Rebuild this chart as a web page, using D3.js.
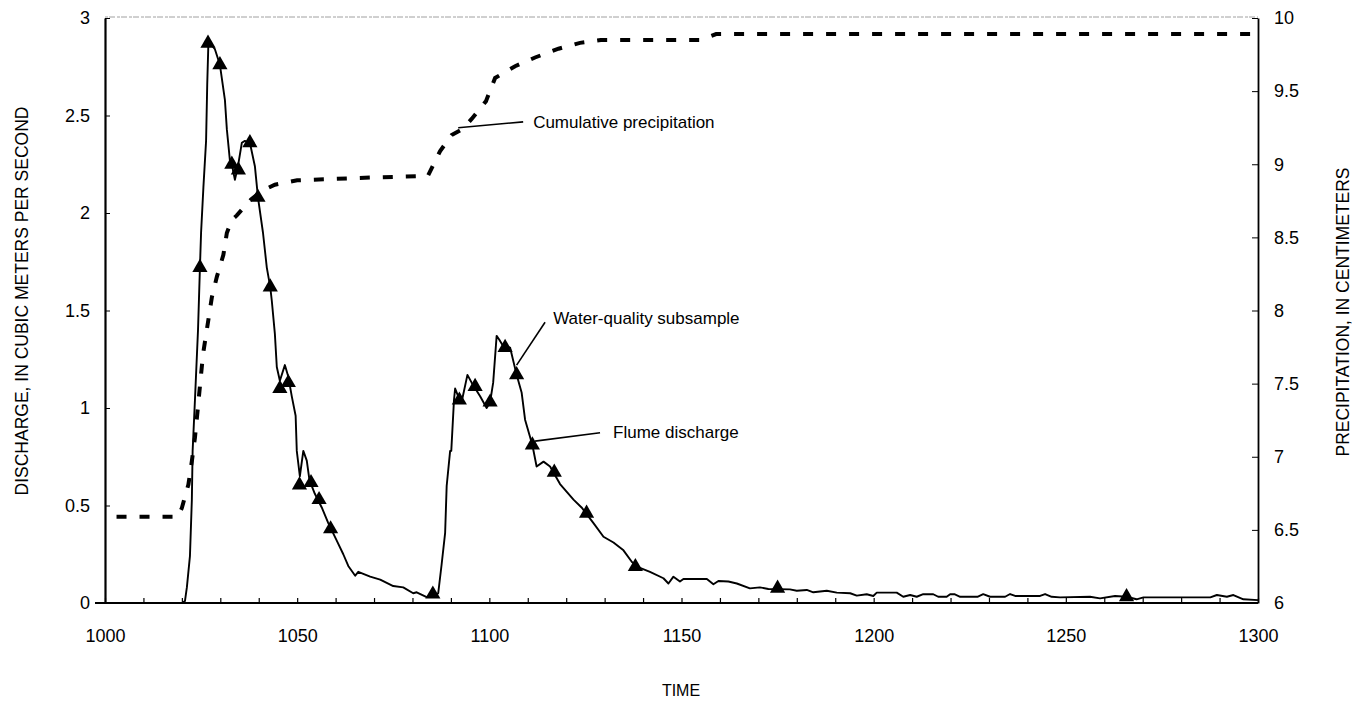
<!DOCTYPE html>
<html>
<head>
<meta charset="utf-8">
<script src="https://cdn.jsdelivr.net/npm/d3@7"></script>
<style>
  body { margin: 0; background: #fff; }
  svg { font-family: "Liberation Sans", Arial, Helvetica, sans-serif; }
</style>
</head>
<body>
<svg id="chart" width="1364" height="702"></svg>
<script>
// flume discharge, m3/s  [time, value]
var discharge = [
  [1000,0],[1020,0],[1020.8,0.01],[1021.3,0.08],[1022.1,0.24],[1022.6,0.53],[1022.8,0.78],[1023.4,1.04],
  [1024.2,1.4],[1024.7,1.72],[1025,1.9],[1025.6,2.13],[1026.3,2.37],[1026.6,2.66],[1026.9,2.87],
  [1027.8,2.86],[1028.6,2.84],[1029.9,2.76],[1031.2,2.58],[1031.7,2.43],[1032.5,2.27],[1033.0,2.25],
  [1033.8,2.17],[1034.6,2.24],[1035.6,2.36],[1036.4,2.37],[1037.7,2.36],[1039.0,2.24],[1039.8,2.08],
  [1041.1,1.90],[1042.1,1.72],[1043.0,1.62],[1043.4,1.55],[1044.2,1.38],[1044.7,1.21],[1045.5,1.14],
  [1046.8,1.22],[1047.7,1.16],[1048.6,1.06],[1049.6,0.96],[1049.9,0.78],[1050.7,0.65],[1051.6,0.78],
  [1052.5,0.73],[1053.2,0.63],[1054.6,0.56],[1056.4,0.49],[1058.1,0.41],[1060.3,0.32],[1062.0,0.25],
  [1063.3,0.19],[1065.1,0.14],[1065.9,0.16],[1069.0,0.135],[1071.6,0.12],[1075.0,0.087],[1077.6,0.08],
  [1080.2,0.05],[1081.1,0.055],[1083.7,0.03],[1085.3,0.03],[1086.7,0.05],[1087.6,0.20],[1088.5,0.36],
  [1088.9,0.60],[1089.8,0.78],[1090.1,0.78],[1090.8,1.04],[1091.1,1.10],[1091.9,1.06],[1093.0,1.05],
  [1094.3,1.17],[1095.4,1.13],[1097.6,1.06],[1099.3,1.0],[1100.2,1.03],[1101.0,1.13],[1101.9,1.37],
  [1102.6,1.35],[1103.5,1.32],[1105.4,1.31],[1107.1,1.17],[1108.4,1.08],[1109.3,0.94],[1111.2,0.81],
  [1112.3,0.70],[1114.1,0.725],[1115.8,0.70],[1118.4,0.61],[1121.9,0.53],[1124.0,0.49],[1127.1,0.41],
  [1129.7,0.34],[1132.3,0.31],[1134.9,0.27],[1137.1,0.21],[1139.2,0.18],[1141.8,0.16],[1145.3,0.127],
  [1146.6,0.10],[1147.9,0.135],[1149.6,0.11],[1150.5,0.123],[1156.6,0.123],[1158.3,0.096],[1159.6,0.113],
  [1162.2,0.11],[1164.4,0.10],[1167.8,0.075],[1170.4,0.08],[1172.6,0.072],[1178.2,0.07],[1180,0.063],
  [1182.6,0.067],[1184.3,0.055],[1187.8,0.063],[1190.4,0.053],[1193.9,0.05],[1195.6,0.038],[1198.2,0.045],
  [1199.9,0.036],[1200.8,0.053],[1206.0,0.053],[1207.7,0.032],[1209.5,0.041],[1211.2,0.032],[1212.9,0.045],
  [1215.5,0.045],[1216.8,0.032],[1219,0.032],[1219.9,0.045],[1221,0.045],[1222.5,0.032],[1227,0.032],
  [1228.5,0.045],[1230.3,0.032],[1234.2,0.032],[1235.5,0.046],[1236.8,0.036],[1243.3,0.036],[1244.6,0.046],
  [1246.3,0.032],[1248.5,0.029],[1256.3,0.032],[1258.9,0.024],[1262.8,0.036],[1265.8,0.032],[1268.4,0.019],
  [1270.2,0.029],[1287.6,0.029],[1289.3,0.041],[1291.9,0.032],[1293.6,0.041],[1296.2,0.019],[1300,0.015]
];

// water-quality subsamples [time, discharge]
var subsamples = [
  [1024.7,1.72],[1026.8,2.87],[1029.9,2.76],[1033.0,2.25],[1034.7,2.22],[1037.7,2.36],[1039.8,2.08],
  [1043.0,1.62],[1045.5,1.10],[1047.7,1.13],[1050.6,0.605],[1053.6,0.617],[1055.7,0.53],[1058.7,0.38],
  [1085.3,0.045],[1092.2,1.04],[1096.3,1.11],[1100.2,1.03],[1104.1,1.31],[1107.1,1.17],[1111.2,0.81],
  [1116.9,0.67],[1125.3,0.46],[1138.0,0.186],[1175,0.075],[1265.8,0.032]
];

// cumulative precipitation, cm [time, value]
var precip = [
  [1003,6.59],[1019,6.59],[1020,6.65],[1021.7,6.81],[1022.6,6.97],[1023.4,7.13],[1024,7.29],[1025.5,7.7],
  [1027.8,8.09],[1029.1,8.23],[1030.8,8.38],[1031.7,8.53],[1033,8.62],[1034.3,8.65],[1038,8.76],[1041,8.82],
  [1044.2,8.86],[1050,8.89],[1060,8.9],[1070,8.91],[1084,8.92],[1087.2,9.09],[1090.2,9.20],[1093,9.24],
  [1095.4,9.31],[1099.1,9.43],[1101.5,9.59],[1106.7,9.67],[1111.9,9.73],[1118,9.79],[1123.6,9.83],
  [1129,9.85],[1155,9.85],[1159,9.89],[1300,9.89]
];

var leftTicks = [0, 0.5, 1, 1.5, 2, 2.5, 3];
var rightTicks = [6, 6.5, 7, 7.5, 8, 8.5, 9, 9.5, 10];
var timeTicks = d3.range(1000, 1301, 10);

// callouts: text anchor point and leader from/to, in data units
var notes = [
  { text: "Cumulative precipitation", axis: "right", tx: 1111.4, ty: 9.29, from: [1108.8, 9.29], to: [1091.9, 9.25] },
  { text: "Water-quality subsample", axis: "left", tx: 1116.6, ty: 1.46, from: [1114.5, 1.44], to: [1107.1, 1.22] },
  { text: "Flume discharge", axis: "left", tx: 1132.2, ty: 0.877, from: [1128.8, 0.873], to: [1111.9, 0.83] }
];

var svg = d3.select("#chart");
var x = d3.scaleLinear().domain([1000, 1300]).range([105, 1258]);
var yL = d3.scaleLinear().domain([0, 3]).range([603, 18]);
var yR = d3.scaleLinear().domain([6, 10]).range([603, 18]);

// faint top border
svg.append("line").attr("x1", 105).attr("x2", 1258).attr("y1", 17).attr("y2", 17)
  .attr("stroke", "#888").attr("stroke-width", 0.8).attr("stroke-dasharray", "3,1,6,2");

// bottom axis
var xAxis = svg.append("g").attr("transform", "translate(0,603)")
  .call(d3.axisBottom(x).tickValues(timeTicks).tickSizeInner(-5).tickSizeOuter(0).tickPadding(26)
    .tickFormat(function(d) { return d % 50 === 0 ? d : ""; }));
xAxis.select(".domain").attr("stroke-width", 2.2).attr("d", "M95,0H1258");
xAxis.selectAll(".tick line").attr("stroke-width", 1.2);
xAxis.selectAll("text").attr("font-size", 18).attr("fill", "#000");

var lAxis = svg.append("g").attr("transform", "translate(105,0)")
  .call(d3.axisLeft(yL).tickValues(leftTicks).tickSizeInner(-5).tickSizeOuter(0).tickPadding(15)
    .tickFormat(function(d) { return String(d); }));
lAxis.select(".domain").attr("stroke-width", 2.2);
lAxis.selectAll("text").attr("font-size", 18).attr("fill", "#000");

var rAxis = svg.append("g").attr("transform", "translate(1258,0)")
  .call(d3.axisRight(yR).tickValues(rightTicks).tickSizeInner(-6).tickSizeOuter(0).tickPadding(16)
    .tickFormat(function(d) { return String(d); }));
rAxis.select(".domain").attr("stroke-width", 1.8);
rAxis.selectAll("text").attr("font-size", 18).attr("fill", "#000");

// axis titles
svg.append("text").attr("transform", "translate(28,301) rotate(-90)")
  .attr("text-anchor", "middle").attr("font-size", 17.5).text("DISCHARGE, IN CUBIC METERS PER SECOND");
svg.append("text").attr("transform", "translate(1349,312) rotate(-90)")
  .attr("text-anchor", "middle").attr("font-size", 17.5).text("PRECIPITATION, IN CENTIMETERS");
svg.append("text").attr("x", 681).attr("y", 696).attr("text-anchor", "middle")
  .attr("font-size", 16).text("TIME");

// cumulative precipitation (dashed)
svg.append("path").datum(precip)
  .attr("d", d3.line().x(function(d) { return x(d[0]); }).y(function(d) { return yR(d[1]); }))
  .attr("fill", "none").attr("stroke", "#000").attr("stroke-width", 4)
  .attr("stroke-dasharray", "10,13");

// flume discharge
svg.append("path").datum(discharge)
  .attr("d", d3.line().x(function(d) { return x(d[0]); }).y(function(d) { return yL(d[1]); }))
  .attr("fill", "none").attr("stroke", "#000").attr("stroke-width", 1.9).attr("stroke-linejoin", "round");

// subsample markers
svg.selectAll(".sub").data(subsamples).enter().append("path")
  .attr("class", "sub")
  .attr("transform", function(d) { return "translate(" + x(d[0]) + "," + yL(d[1]) + ")"; })
  .attr("d", d3.symbol().type(d3.symbolTriangle).size(100))
  .attr("fill", "#000");

// callouts
notes.forEach(function(n) {
  var y = n.axis === "right" ? yR : yL;
  svg.append("line")
    .attr("x1", x(n.from[0])).attr("y1", y(n.from[1]))
    .attr("x2", x(n.to[0])).attr("y2", y(n.to[1]))
    .attr("stroke", "#000").attr("stroke-width", 1.6);
  svg.append("text").attr("x", x(n.tx)).attr("y", y(n.ty)).attr("dy", "0.35em")
    .attr("font-size", 17).text(n.text);
});
</script>
</body>
</html>
